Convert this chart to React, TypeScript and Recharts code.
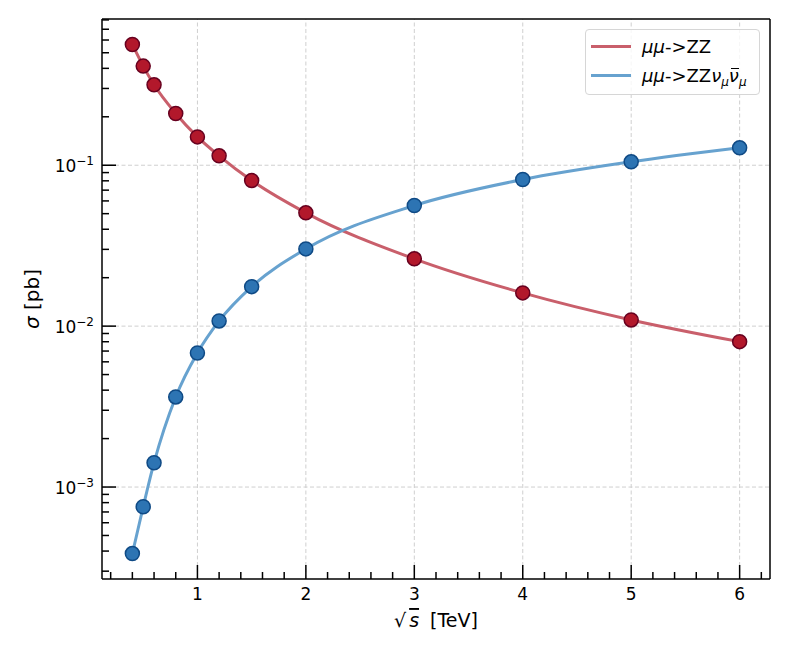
import React from "react";
import { ComposedChart, Line, XAxis, YAxis, ReferenceLine } from "recharts";

// sqrt(s) in TeV
const energies = [0.4, 0.5, 0.6, 0.8, 1.0, 1.2, 1.5, 2, 3, 4, 5, 6];
// cross sections in pb
const sigmaZZ = [0.563, 0.413, 0.316, 0.2097, 0.15, 0.1144, 0.0803, 0.0506, 0.0262, 0.01609, 0.01093, 0.00801];
const sigmaZZnunu = [3.86e-4, 7.54e-4, 1.416e-3, 3.63e-3, 6.81e-3, 1.077e-2, 1.76e-2, 3.02e-2, 5.62e-2, 8.15e-2, 0.105, 0.1283];

const xMajor = [1, 2, 3, 4, 5, 6];
const xMinor = [0.2, 0.4, 0.6, 0.8, 1.2, 1.4, 1.6, 1.8, 2.2, 2.4, 2.6, 2.8, 3.2, 3.4, 3.6, 3.8, 4.2, 4.4, 4.6, 4.8, 5.2, 5.4, 5.6, 5.8, 6.2];
const yMajor = [1e-3, 1e-2, 1e-1];
const yMajorExp = ["−3", "−2", "−1"];
const yMinor = [
  3e-4, 4e-4, 5e-4, 6e-4, 7e-4, 8e-4, 9e-4,
  2e-3, 3e-3, 4e-3, 5e-3, 6e-3, 7e-3, 8e-3, 9e-3,
  2e-2, 3e-2, 4e-2, 5e-2, 6e-2, 7e-2, 8e-2, 9e-2,
  2e-1, 3e-1, 4e-1, 5e-1, 6e-1, 7e-1, 8e-1,
];

const X_DOMAIN: [number, number] = [0.12, 6.28];
const Y_DOMAIN: [number, number] = [2.682e-4, 0.8105];

const data = energies.map((e, i) => ({ e, zz: sigmaZZ[i], zznn: sigmaZZnunu[i] }));

const FONT = "'DejaVu Sans', sans-serif";
const RED_LINE = "#c95f6b";
const BLUE_LINE = "#67a2cf";

const isIn = (arr: number[], v: number) => arr.findIndex((a) => Math.abs(a - v) < 1e-9) >= 0;

function XTick(props: any) {
  const { x, y, payload } = props;
  const major = isIn(xMajor, payload.value);
  return (
    <g>
      <line x1={x} x2={x} y1={y} y2={y - (major ? 14 : 7)} stroke="#000" strokeWidth={1.5} />
      {major && (
        <text x={x} y={y + 21} textAnchor="middle" fontSize={17} fontFamily={FONT} fill="#000">
          {payload.value}
        </text>
      )}
    </g>
  );
}

function YTick(props: any) {
  const { x, y, payload } = props;
  const idx = yMajor.findIndex((a) => Math.abs(a - payload.value) / a < 1e-6);
  const major = idx >= 0;
  return (
    <g>
      <line x1={x} x2={x + (major ? 14 : 7)} y1={y} y2={y} stroke="#000" strokeWidth={1.5} />
      {major && (
        <text x={x - 8} y={y + 7} textAnchor="end" fontSize={17} fontFamily={FONT} fill="#000">
          <tspan>10</tspan>
          <tspan dy={-7} fontSize={12}>{yMajorExp[idx]}</tspan>
        </text>
      )}
    </g>
  );
}

function XLabel(props: any) {
  const { viewBox } = props;
  const cx = viewBox.x + viewBox.width / 2;
  return (
    <text x={cx} y={viewBox.y + 48} textAnchor="middle" fontSize={19} fontFamily={FONT} fill="#000">
      <tspan>√</tspan>
      <tspan dx={3} fontStyle="italic" style={{ textDecoration: "overline" }}>s</tspan>
      <tspan dx={5}> [TeV]</tspan>
    </text>
  );
}

function YLabel(props: any) {
  const { viewBox } = props;
  const cx = viewBox.x + 30;
  const cy = viewBox.y + viewBox.height / 2;
  return (
    <text
      x={cx}
      y={cy}
      textAnchor="middle"
      dominantBaseline="central"
      fontSize={20}
      fontFamily={FONT}
      fill="#000"
      transform={`rotate(-90 ${cx} ${cy})`}
    >
      <tspan fontStyle="italic">σ</tspan>
      <tspan> [pb]</tspan>
    </text>
  );
}

function LegendBox() {
  const row = { display: "flex", alignItems: "center", height: 29 };
  const swatch = (c: string) => ({ width: 40, height: 3, background: c, marginRight: 11, flexShrink: 0 });
  const sub = { fontSize: 12, fontStyle: "italic" as const, position: "relative" as const, top: 4 };
  return (
    <div
      style={{
        position: "absolute",
        left: 585,
        top: 29,
        width: 175,
        height: 66,
        boxSizing: "border-box",
        border: "1px solid #d6d6d6",
        borderRadius: 4,
        background: "rgba(255,255,255,0.8)",
        padding: "2px 0 0 5px",
        fontFamily: FONT,
        fontSize: 18,
        color: "#000",
        whiteSpace: "nowrap",
      }}
    >
      <div style={row}>
        <span style={swatch(RED_LINE)} />
        <span>
          <i>μμ</i>-&gt;ZZ
        </span>
      </div>
      <div style={row}>
        <span style={swatch(BLUE_LINE)} />
        <span>
          <i>μμ</i>-&gt;ZZ<i>ν</i>
          <span style={sub}>μ</span>
          <span style={{ position: "relative", fontStyle: "italic" }}>
            ν
            <span style={{ position: "absolute", left: 2, right: 0, top: 3, borderTop: "1.3px solid #000" }} />
          </span>
          <span style={sub}>μ</span>
        </span>
      </div>
    </div>
  );
}

export default function App() {
  return (
    <div style={{ position: "absolute", left: 0, top: 0, width: 789, height: 658, background: "#fff" }}>
      <ComposedChart width={789} height={658} data={data} margin={{ top: 19, right: 19, bottom: 19, left: 2 }}>
        <XAxis
          dataKey="e"
          type="number"
          domain={X_DOMAIN}
          allowDataOverflow
          ticks={[...xMajor, ...xMinor]}
          interval={0}
          tickSize={0}
          tickMargin={0}
          tickLine={false}
          tick={<XTick />}
          height={60}
          axisLine={{ stroke: "#000", strokeWidth: 1.5 }}
          label={<XLabel />}
        />
        <YAxis
          type="number"
          scale="log"
          domain={Y_DOMAIN}
          allowDataOverflow
          ticks={[...yMajor, ...yMinor]}
          interval={0}
          tickSize={0}
          tickMargin={0}
          tickLine={false}
          tick={<YTick />}
          width={100}
          axisLine={{ stroke: "#000", strokeWidth: 1.5 }}
          label={<YLabel />}
        />
        {xMajor.map((v) => (
          <ReferenceLine key={`gx${v}`} x={v} stroke="#cfcfcf" strokeDasharray="4 2.5" strokeWidth={1} />
        ))}
        {yMajor.map((v) => (
          <ReferenceLine key={`gy${v}`} y={v} stroke="#cfcfcf" strokeDasharray="4 2.5" strokeWidth={1} />
        ))}
        <Line
          dataKey="zz"
          type="monotone"
          stroke={RED_LINE}
          strokeWidth={3}
          dot={{ r: 7, fill: "#b2182b", stroke: "#67001f", strokeWidth: 1.5 }}
          activeDot={false}
          isAnimationActive={false}
        />
        <Line
          dataKey="zznn"
          type="monotone"
          stroke={BLUE_LINE}
          strokeWidth={3}
          dot={{ r: 7, fill: "#2d74b3", stroke: "#0f4a85", strokeWidth: 1.5 }}
          activeDot={false}
          isAnimationActive={false}
        />
        {/* frame: top and right spines */}
        <ReferenceLine x={X_DOMAIN[1]} stroke="#000" strokeWidth={1.5} ifOverflow="visible" />
        <ReferenceLine y={Y_DOMAIN[1]} stroke="#000" strokeWidth={1.5} ifOverflow="visible" />
      </ComposedChart>
      <LegendBox />
    </div>
  );
}
